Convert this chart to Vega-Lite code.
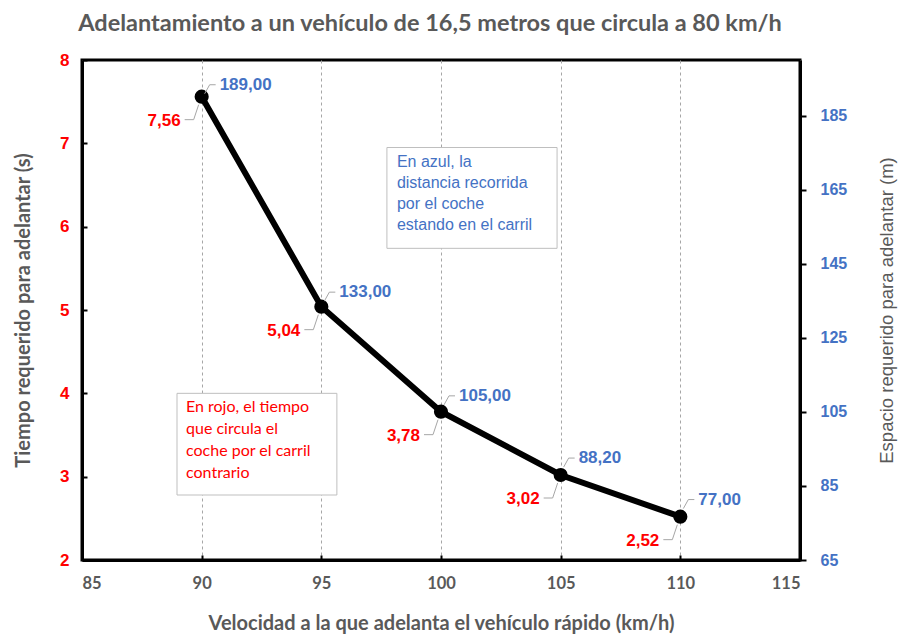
{
  "$schema": "https://vega.github.io/schema/vega-lite/v6.json",
  "width": 718,
  "height": 500,
  "autosize": "none",
  "padding": {"left": 82, "top": 60, "right": 99, "bottom": 77},
  "background": "white",
  "title": {
    "text": "Adelantamiento a un vehículo de 16,5 metros que circula a 80 km/h",
    "font": "Lato",
    "fontSize": 23.5,
    "fontWeight": "bold",
    "color": "#595959",
    "anchor": "middle",
    "frame": "group",
    "dx": -11,
    "offset": 16
  },
  "config": {
    "locale": {"number": {"decimal": ",", "thousands": ".", "grouping": [3], "currency": ["", " €"]}},
    "view": {"stroke": "black", "strokeWidth": 3}
  },
  "datasets": {
    "pts": [
      {"v": 90, "t": 7.56, "d": 189.0},
      {"v": 95, "t": 5.04, "d": 133.0},
      {"v": 100, "t": 3.78, "d": 105.0},
      {"v": 105, "t": 3.02, "d": 88.2},
      {"v": 110, "t": 2.52, "d": 77.0}
    ],
    "boxes": [
      {"v": 97.74, "v2": 104.85, "t": 6.95, "t2": 5.74, "txt": "En azul, la\ndistancia recorrida\npor el coche\nestando en el carril", "c": "azul"},
      {"v": 88.97, "v2": 95.65, "t": 4.0, "t2": 2.78, "txt": "En rojo, el tiempo\nque circula el\ncoche por el carril\ncontrario", "c": "rojo"}
    ]
  },
  "layer": [
    {
      "encoding": {
        "x": {
          "field": "v", "type": "quantitative",
          "scale": {"domain": [85, 115], "nice": false, "zero": false},
          "axis": {
            "title": "Velocidad a la que adelanta el vehículo rápido (km/h)",
            "values": [85, 90, 95, 100, 105, 110, 115],
            "grid": true, "gridColor": "#a6a6a6", "gridDash": [3, 3], "gridWidth": 1,
            "domainColor": "black", "domainWidth": 3,
            "tickColor": "black", "tickWidth": 2, "tickSize": -5,
            "labelFont": "Lato", "labelFontSize": 16.5, "labelFontWeight": "bold", "labelColor": "#595959",
            "labelPadding": 20,
            "titleFont": "Lato", "titleFontSize": 20, "titleFontWeight": "bold", "titleColor": "#595959",
            "titlePadding": 22
          }
        },
        "y": {
          "field": "t", "type": "quantitative",
          "scale": {"domain": [2, 8], "nice": false, "zero": false},
          "axis": {
            "orient": "left",
            "title": "Tiempo requerido para adelantar (s)",
            "values": [2, 3, 4, 5, 6, 7, 8],
            "grid": false,
            "domainColor": "black", "domainWidth": 3,
            "tickColor": "black", "tickWidth": 2, "tickSize": -5,
            "labelFont": "Arial", "labelFontSize": 17, "labelFontWeight": "bold", "labelColor": "#FF0000",
            "labelPadding": 18,
            "titleFont": "Lato", "titleFontSize": 20, "titleFontWeight": "bold", "titleColor": "#595959",
            "titlePadding": 26
          }
        }
      },
      "layer": [
        {
          "data": {"name": "boxes"},
          "mark": {"type": "rect", "fill": "white", "stroke": "#bfbfbf", "strokeWidth": 1},
          "encoding": {"x2": {"field": "v2"}, "y2": {"field": "t2"}}
        },
        {
          "data": {"name": "boxes"},
          "transform": [{"filter": "datum.c == 'azul'"}],
          "mark": {"type": "text", "align": "left", "baseline": "top", "dx": 10, "dy": 6, "font": "Arial", "fontSize": 16, "color": "#4472C4", "lineBreak": "\n", "lineHeight": 21},
          "encoding": {"text": {"field": "txt"}}
        },
        {
          "data": {"name": "boxes"},
          "transform": [{"filter": "datum.c == 'rojo'"}],
          "mark": {"type": "text", "align": "left", "baseline": "top", "dx": 9, "dy": 6, "font": "Lato", "fontSize": 16, "color": "#FF0000", "lineBreak": "\n", "lineHeight": 22},
          "encoding": {"text": {"field": "txt"}}
        },
        {
          "data": {"name": "pts"},
          "mark": {"type": "line", "color": "black", "strokeWidth": 6},
          "encoding": {}
        },
        {
          "data": {"name": "pts"},
          "mark": {"type": "point", "filled": true, "shape": "circle", "size": 200, "color": "black", "opacity": 1},
          "encoding": {}
        },
        {
          "data": {"name": "pts"},
          "mark": {"type": "rule", "color": "#a6a6a6", "strokeWidth": 1, "xOffset": -3, "yOffset": 8, "x2Offset": -8, "y2Offset": 23},
          "encoding": {"x2": {"field": "v"}, "y2": {"field": "t"}}
        },
        {
          "data": {"name": "pts"},
          "mark": {"type": "rule", "color": "#a6a6a6", "strokeWidth": 1, "xOffset": -8, "yOffset": 23, "x2Offset": -17, "y2Offset": 23},
          "encoding": {"x2": {"field": "v"}, "y2": {"field": "t"}}
        },
        {
          "data": {"name": "pts"},
          "mark": {"type": "text", "align": "right", "baseline": "middle", "dx": -21, "dy": 24, "font": "Arial", "fontSize": 17, "fontWeight": "bold", "color": "#FF0000"},
          "encoding": {"text": {"field": "t", "type": "quantitative", "format": ".2f"}}
        }
      ]
    },
    {
      "data": {"name": "pts"},
      "encoding": {
        "x": {"field": "v", "type": "quantitative", "scale": {"domain": [85, 115], "nice": false, "zero": false}},
        "y": {
          "field": "d", "type": "quantitative",
          "scale": {"domain": [65, 200], "nice": false, "zero": false},
          "axis": {
            "orient": "right",
            "title": "Espacio requerido para adelantar (m)",
            "titleAngle": 270,
            "values": [65, 85, 105, 125, 145, 165, 185],
            "grid": false,
            "domainColor": "black", "domainWidth": 3,
            "tickColor": "black", "tickWidth": 2, "tickSize": 6,
            "labelFont": "Arial", "labelFontSize": 16, "labelFontWeight": "bold", "labelColor": "#4472C4",
            "labelPadding": 14,
            "titleFont": "Arial", "titleFontSize": 18.5, "titleFontWeight": "normal", "titleColor": "#595959",
            "titlePadding": 50
          }
        }
      },
      "layer": [
        {
          "mark": {"type": "rule", "color": "#a6a6a6", "strokeWidth": 1, "xOffset": 3, "yOffset": -7, "x2Offset": 8, "y2Offset": -16},
          "encoding": {"x2": {"field": "v"}, "y2": {"field": "d"}}
        },
        {
          "mark": {"type": "rule", "color": "#a6a6a6", "strokeWidth": 1, "xOffset": 8, "yOffset": -16, "x2Offset": 14, "y2Offset": -16},
          "encoding": {"x2": {"field": "v"}, "y2": {"field": "d"}}
        },
        {
          "mark": {"type": "text", "align": "left", "baseline": "middle", "dx": 18, "dy": -16, "font": "Arial", "fontSize": 17, "fontWeight": "bold", "color": "#4472C4"},
          "encoding": {"text": {"field": "d", "type": "quantitative", "format": ".2f"}}
        }
      ]
    }
  ],
  "resolve": {"scale": {"y": "independent"}, "axis": {"y": "independent"}}
}
